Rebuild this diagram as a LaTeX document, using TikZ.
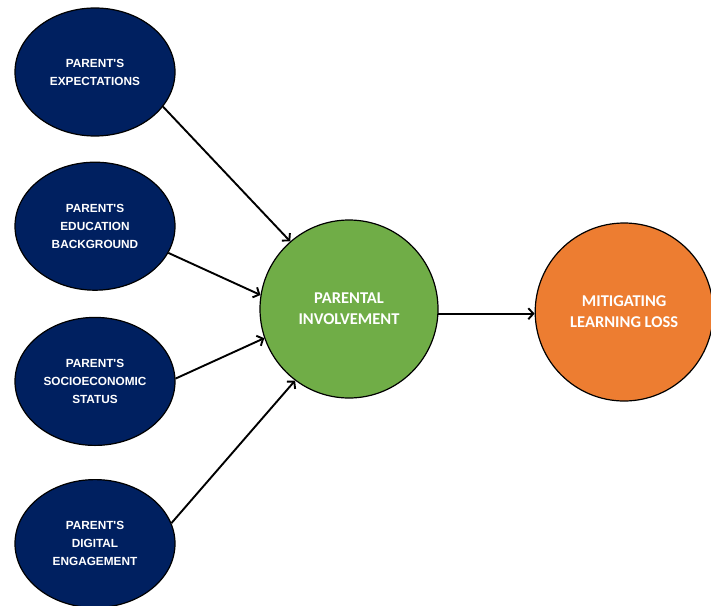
\documentclass[tikz,border=0pt]{standalone}
\usepackage{fontspec}
\usepackage{tikz}
\usetikzlibrary{shapes.geometric,positioning,arrows.meta}
\newfontfamily\arialfont{Liberation Sans}
\newfontfamily\calibrifont{Carlito}
\definecolor{factorblue}{HTML}{002060}
\definecolor{involvegreen}{HTML}{70AD47}
\definecolor{lossorange}{HTML}{ED7D31}
\tikzset{
  factor/.style={ellipse,draw=black,line width=1.2pt,fill=factorblue,text=white,align=center,
    minimum width=160pt,minimum height=128pt,font=\arialfont\bfseries\fontsize{11.8}{18}\selectfont},
  bigcircle/.style={circle,draw=black,line width=1.2pt,text=white,align=center,
    minimum size=178pt,font=\calibrifont\bfseries\fontsize{16.5}{21}\selectfont},
  link/.style={line width=1.9pt,-{Straight Barb[length=5pt,width=11pt]}}
}
\begin{document}
\begin{tikzpicture}[x=1pt,y=-1pt]
\useasboundingbox (0,0) rectangle (711,605);
\node(expect)[factor] at (95,72) {PARENT'S\\EXPECTATIONS};
\node(educ)[factor,below=25pt of expect] {PARENT'S\\EDUCATION\\BACKGROUND};
\node(socio)[factor,below=26pt of educ] {PARENT'S\\SOCIOECONOMIC\\STATUS};
\node(digital)[factor,below=33pt of socio] {PARENT'S\\DIGITAL\\ENGAGEMENT};

\node(involve)[bigcircle,fill=involvegreen] at (349,309) {PARENTAL\\INVOLVEMENT};
\node(mitigate)[bigcircle,fill=lossorange,right=96pt of involve,yshift=-3pt] {MITIGATING\\LEARNING LOSS};

\draw[link] (expect.-27) -- (involve.131);
\draw[link] (educ.-20) -- (involve.171);
\draw[link] (socio.2) -- (involve.199);
\draw[link] (digital.15) -- (involve.233);

\draw[link] (involve.-3) -- (involve.-3 -| mitigate.west);
\end{tikzpicture}
\end{document}
